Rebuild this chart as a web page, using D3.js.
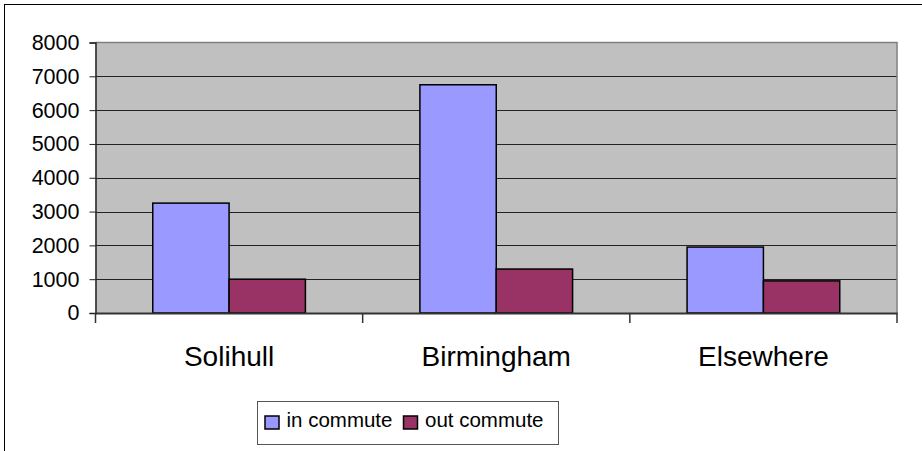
<!DOCTYPE html>
<html>
<head>
<meta charset="utf-8">
<script src="https://cdn.jsdelivr.net/npm/d3@7"></script>
<style>
  html, body { margin: 0; padding: 0; background: #fff; }
  svg { display: block; }
  text { font-family: "Liberation Sans", Arial, sans-serif; fill: #000; }
</style>
</head>
<body>
<svg id="chart" width="922" height="451"></svg>
<script>
// Commuting flows by area
const categories = ["Solihull", "Birmingham", "Elsewhere"];
const seriesNames = ["in commute", "out commute"];
const inCommute = [3250, 6750, 1950];
const outCommute = [1000, 1300, 950];
const yTicks = [0, 1000, 2000, 3000, 4000, 5000, 6000, 7000, 8000];
const colors = ["#9999ff", "#993366"];

const svg = d3.select("#chart");

// outer chart frame
svg.append("rect")
  .attr("x", 4.5).attr("y", 4.5)
  .attr("width", 930).attr("height", 460)
  .attr("fill", "none").attr("stroke", "#000").attr("stroke-width", 1);

const plot = { left: 95.5, right: 897, top: 42.5, bottom: 313 };

const x0 = d3.scaleBand()
  .domain(categories)
  .range([plot.left, plot.right])
  .paddingInner(0)
  .paddingOuter(0);

// each group: two bars plus a 150% gap
const barW = x0.bandwidth() / 3.5;
const x1 = d3.scaleBand()
  .domain(seriesNames)
  .range([0, barW * 2]);

const y = d3.scaleLinear().domain([0, 8000]).range([plot.bottom, plot.top]);

// plot background
svg.append("rect")
  .attr("x", plot.left).attr("y", plot.top)
  .attr("width", plot.right - plot.left).attr("height", plot.bottom - plot.top)
  .attr("fill", "#c0c0c0");

// gridlines
svg.append("g")
  .selectAll("line")
  .data(yTicks.filter(d => d > 0 && d < 8000))
  .join("line")
  .attr("x1", plot.left).attr("x2", plot.right)
  .attr("y1", d => Math.round(y(d)) + 0.5).attr("y2", d => Math.round(y(d)) + 0.5)
  .attr("stroke", "#222").attr("stroke-width", 1);

// plot frame top and right
svg.append("path")
  .attr("d", `M${plot.left},${plot.top}H${plot.right}V${plot.bottom}`)
  .attr("fill", "none").attr("stroke", "#808080").attr("stroke-width", 1.5);

// bars
const rows = categories.map((c, i) => ({ cat: c, values: [inCommute[i], outCommute[i]] }));
const groups = svg.append("g")
  .selectAll("g")
  .data(rows)
  .join("g")
  .attr("transform", d => `translate(${x0(d.cat) + barW * 0.75},0)`);

groups.selectAll("rect")
  .data(d => d.values.map((v, j) => ({ key: seriesNames[j], v, j })))
  .join("rect")
  .attr("x", d => x1(d.key))
  .attr("y", d => y(d.v))
  .attr("width", x1.bandwidth())
  .attr("height", d => y(0) - y(d.v))
  .attr("fill", d => colors[d.j])
  .attr("stroke", "#000").attr("stroke-width", 1.5);

// y axis
const yAxis = d3.axisLeft(y).tickValues(yTicks).tickSize(6).tickPadding(10).tickFormat(d3.format("d"));
const yg = svg.append("g").attr("transform", `translate(${plot.left},0)`).call(yAxis);
yg.select(".domain").attr("stroke", "#222").attr("stroke-width", 1.5);
yg.selectAll(".tick line").attr("stroke", "#222");
yg.selectAll("text").attr("font-size", 21.5).attr("font-family", "Liberation Sans, Arial, sans-serif");

// x axis
const xAxis = d3.axisBottom(x0).tickSize(0).tickPadding(33);
const xg = svg.append("g").attr("transform", `translate(0,${plot.bottom})`).call(xAxis);
xg.select(".domain").attr("stroke", "#333").attr("stroke-width", 2);
xg.selectAll("text").attr("font-size", 28).attr("font-family", "Liberation Sans, Arial, sans-serif");

// category dividers
svg.append("g")
  .selectAll("line")
  .data(categories.slice(0).concat(["__end"]))
  .join("line")
  .attr("x1", (d, i) => plot.left + i * x0.step())
  .attr("x2", (d, i) => plot.left + i * x0.step())
  .attr("y1", plot.bottom).attr("y2", plot.bottom + 10)
  .attr("stroke", "#333").attr("stroke-width", 1.5);

// legend
const lg = svg.append("g");
lg.append("rect")
  .attr("x", 257.5).attr("y", 401.5).attr("width", 301).attr("height", 43)
  .attr("fill", "#fff").attr("stroke", "#555").attr("stroke-width", 1);
const legendItems = [{ name: seriesNames[0], x: 265 }, { name: seriesNames[1], x: 403.5 }];
legendItems.forEach((it, i) => {
  lg.append("rect")
    .attr("x", it.x).attr("y", 416).attr("width", 14).attr("height", 13)
    .attr("fill", colors[i]).attr("stroke", "#000").attr("stroke-width", 1.5);
  lg.append("text")
    .attr("x", it.x + 21.5).attr("y", 427)
    .attr("font-size", 20.5)
    .text(it.name);
});
</script>
</body>
</html>
